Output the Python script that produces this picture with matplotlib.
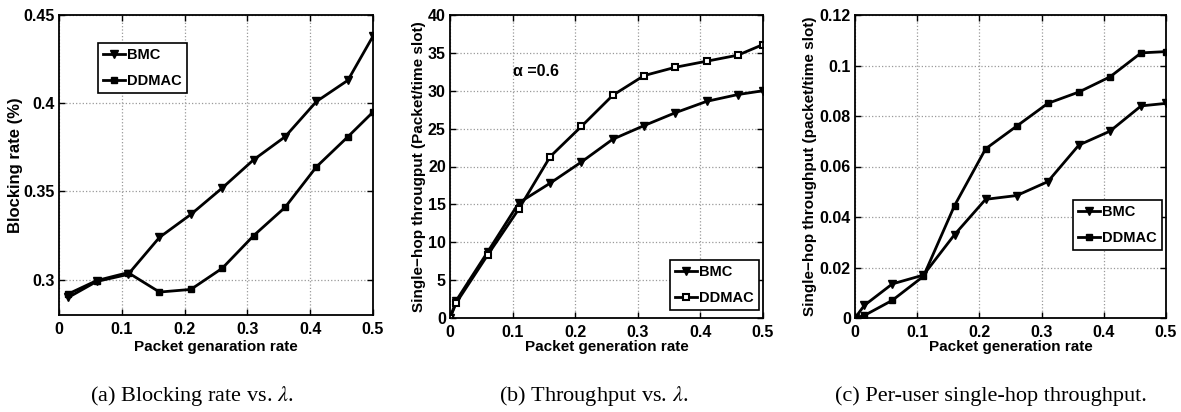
import matplotlib
matplotlib.use("Agg")
import matplotlib.pyplot as plt

# ---- data ----
x_a = [0.015, 0.06, 0.11, 0.16, 0.21, 0.26, 0.31, 0.36, 0.41, 0.46, 0.5]
bmc_a = [0.290, 0.299, 0.303, 0.324, 0.337, 0.352, 0.368, 0.381, 0.401, 0.413, 0.438]
ddmac_a = [0.292, 0.2995, 0.304, 0.293, 0.2945, 0.3065, 0.325, 0.341, 0.364, 0.381, 0.395]

x_b = [0.0, 0.01, 0.06, 0.11, 0.16, 0.21, 0.26, 0.31, 0.36, 0.41, 0.46, 0.5]
bmc_b = [0.0, 2.3, 8.7, 15.2, 17.8, 20.6, 23.6, 25.4, 27.1, 28.6, 29.5, 30.0]
ddmac_b = [0.0, 2.0, 8.3, 14.4, 21.3, 25.3, 29.4, 32.0, 33.1, 33.9, 34.7, 36.1]

x_c = [0.0, 0.015, 0.06, 0.11, 0.16, 0.21, 0.26, 0.31, 0.36, 0.41, 0.46, 0.5]
bmc_c = [0.0, 0.005, 0.0135, 0.017, 0.033, 0.047, 0.0485, 0.054, 0.0685, 0.074, 0.084, 0.085]
ddmac_c = [0.0, 0.001, 0.007, 0.0165, 0.0445, 0.067, 0.076, 0.085, 0.0895, 0.0955, 0.105, 0.1055]

xticks = [0, 0.1, 0.2, 0.3, 0.4, 0.5]
xticklabels = ["0", "0.1", "0.2", "0.3", "0.4", "0.5"]
yticks_a = [0.3, 0.35, 0.4, 0.45]
yticklabels_a = ["0.3", "0.35", "0.4", "0.45"]
yticks_b = [0, 5, 10, 15, 20, 25, 30, 35, 40]
yticks_c = [0, 0.02, 0.04, 0.06, 0.08, 0.1, 0.12]
yticklabels_c = ["0", "0.02", "0.04", "0.06", "0.08", "0.1", "0.12"]

series_names = ["BMC", "DDMAC"]
ylabels = ["Blocking rate (%)", "Single\u2212hop througput (Packet/time slot)",
           "Single\u2212hop throughput (packet/time slot)"]
xlabels = ["Packet genaration rate", "Packet generation rate", "Packet generation rate"]
captions = ["(a) Blocking rate vs. $\\lambda$.", "(b) Throughput vs. $\\lambda$.",
            "(c) Per-user single-hop throughput."]

plt.rcParams['font.family'] = ['Liberation Sans', 'DejaVu Sans']
plt.rcParams['mathtext.fontset'] = 'stix'

fig = plt.figure(figsize=(11.81, 4.12), dpi=100)
W, H = 1181, 412

def pos(l, r, t, b):
    return [l / W, 1 - b / H, (r - l) / W, (b - t) / H]

axes = [fig.add_axes(pos(59, 373, 15, 315)),
        fig.add_axes(pos(450, 763, 15, 318)),
        fig.add_axes(pos(855, 1166, 15, 318))]

data = [(x_a, bmc_a, ddmac_a), (x_b, bmc_b, ddmac_b), (x_c, bmc_c, ddmac_c)]
ylims = [(0.28, 0.45), (0, 40), (0, 0.12)]
yt = [(yticks_a, yticklabels_a), (yticks_b, [str(v) for v in yticks_b]), (yticks_c, yticklabels_c)]
legend_locs = [(0.124, 0.74), (0.703, 0.026), (0.701, 0.224)]
ylabel_x = [-0.140, -0.098, -0.146]
ylabel_fs = [12, 11, 11]
xlabel_y = [-0.107, -0.096, -0.096]
caption_x = [192, 594, 991]

for i, ax in enumerate(axes):
    x, b, d = data[i]
    ax.plot(x, b, color='black', lw=2, marker='v', ms=6, label=series_names[0])
    if i == 1:
        ax.plot(x, d, color='black', lw=2, marker='s', ms=5, mfc='white', mew=1.5,
                label=series_names[1])
    else:
        ax.plot(x, d, color='black', lw=2, marker='s', ms=5, label=series_names[1])
    ax.set_xlim(0, 0.5)
    ax.set_ylim(*ylims[i])
    ax.set_xticks(xticks)
    ax.set_xticklabels(xticklabels)
    ax.set_yticks(yt[i][0])
    ax.set_yticklabels(yt[i][1])
    ax.grid(True, linestyle=':', color='#999999', lw=0.9)
    ax.tick_params(direction='in', length=4, width=1, labelsize=11.5, top=True, right=True)
    ax.tick_params(axis='x', pad=5)
    ax.tick_params(axis='y', pad=3)
    for lab in ax.get_xticklabels() + ax.get_yticklabels():
        lab.set_fontweight('bold')
    for s in ax.spines.values():
        s.set_linewidth(1.3)
    ax.set_xlabel(xlabels[i], fontsize=11, fontweight='bold', va='center')
    ax.xaxis.set_label_coords(0.5, xlabel_y[i])
    ax.set_ylabel(ylabels[i], fontsize=ylabel_fs[i], fontweight='bold', va='center')
    ax.yaxis.set_label_coords(ylabel_x[i], 0.5)
    leg = ax.legend(loc='lower left', bbox_to_anchor=legend_locs[i], fancybox=False,
                    edgecolor='black', framealpha=1, prop={'weight': 'bold', 'size': 10.5},
                    handlelength=1.5, handletextpad=0.15, borderpad=0.35, labelspacing=0.8,
                    borderaxespad=0)
    leg.get_frame().set_linewidth(1.2)
    fig.text(caption_x[i] / W, 1 - 396 / H, captions[i],
             ha='center', va='center', fontsize=16, family=['Liberation Serif', 'DejaVu Serif'])

axes[1].text(0.101, 32.6, "\u03b1 =0.6", fontsize=11.5, fontweight='bold', va='center')

fig.savefig("out.png", dpi=100)
